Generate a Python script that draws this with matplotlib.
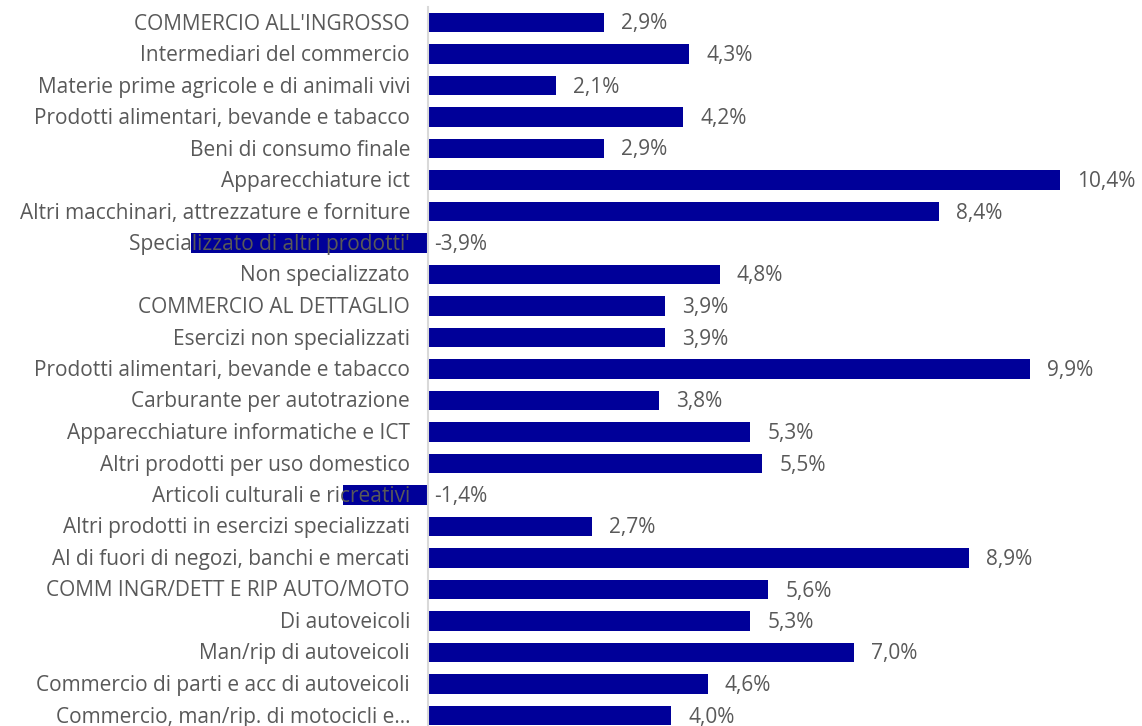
import numpy as np
import matplotlib
matplotlib.use('Agg')
import matplotlib.pyplot as plt

categories = [
    "COMMERCIO ALL'INGROSSO",
    "Intermediari del commercio",
    "Materie prime agricole e di animali vivi",
    "Prodotti alimentari, bevande e tabacco",
    "Beni di consumo finale",
    "Apparecchiature ict",
    "Altri macchinari, attrezzature e forniture",
    "Specializzato di altri prodotti'",
    "Non specializzato",
    "COMMERCIO AL DETTAGLIO",
    "Esercizi non specializzati",
    "Prodotti alimentari, bevande e tabacco",
    "Carburante per autotrazione",
    "Apparecchiature informatiche e ICT",
    "Altri prodotti per uso domestico",
    "Articoli culturali e ricreativi",
    "Altri prodotti in esercizi specializzati",
    "Al di fuori di negozi, banchi e mercati",
    "COMM INGR/DETT E RIP AUTO/MOTO",
    "Di autoveicoli",
    "Man/rip di autoveicoli",
    "Commercio di parti e acc di autoveicoli",
    "Commercio, man/rip. di motocicli e\u2026",
]
values = [2.9, 4.3, 2.1, 4.2, 2.9, 10.4, 8.4, -3.9, 4.8, 3.9, 3.9, 9.9, 3.8,
          5.3, 5.5, -1.4, 2.7, 8.9, 5.6, 5.3, 7.0, 4.6, 4.0]

plt.rcParams['font.family'] = ['Open Sans', 'DejaVu Sans']
text_color = '#595959'
bar_color = '#000099'
fs = 15

fig = plt.figure(figsize=(11.42, 7.26), dpi=100)
ax = fig.add_axes([180 / 1142, 0, (1100 - 180) / 1142, 1])
ax.set_xlim(-(428 - 180) / 60.8, (1100 - 428) / 60.8)
ax.set_ylim((726 - 22.5) / 31.5, -22.5 / 31.5)

y = np.arange(len(categories))
ax.barh(y, values, height=0.62, color=bar_color, zorder=2)
ax.axvline(0, color='#d9d9d9', lw=1.5, zorder=3, ymax=0.99)

dy = -7  # baseline offset so caps sit centred on the bar
for i, (cat, v) in enumerate(zip(categories, values)):
    ax.annotate(cat, xy=(0, i), xytext=(-18, dy), textcoords='offset pixels',
                ha='right', va='baseline', fontsize=fs, color=text_color, zorder=4)
    lab = f"{v:.1f}%".replace('.', ',')
    if v >= 0:
        ax.annotate(lab, xy=(v, i), xytext=(17, dy), textcoords='offset pixels',
                    ha='left', va='baseline', fontsize=fs, color=text_color)
    else:
        ax.annotate(lab, xy=(0, i), xytext=(6, dy), textcoords='offset pixels',
                    ha='left', va='baseline', fontsize=fs, color=text_color)

ax.axis('off')
fig.savefig('out.png', dpi=100)
